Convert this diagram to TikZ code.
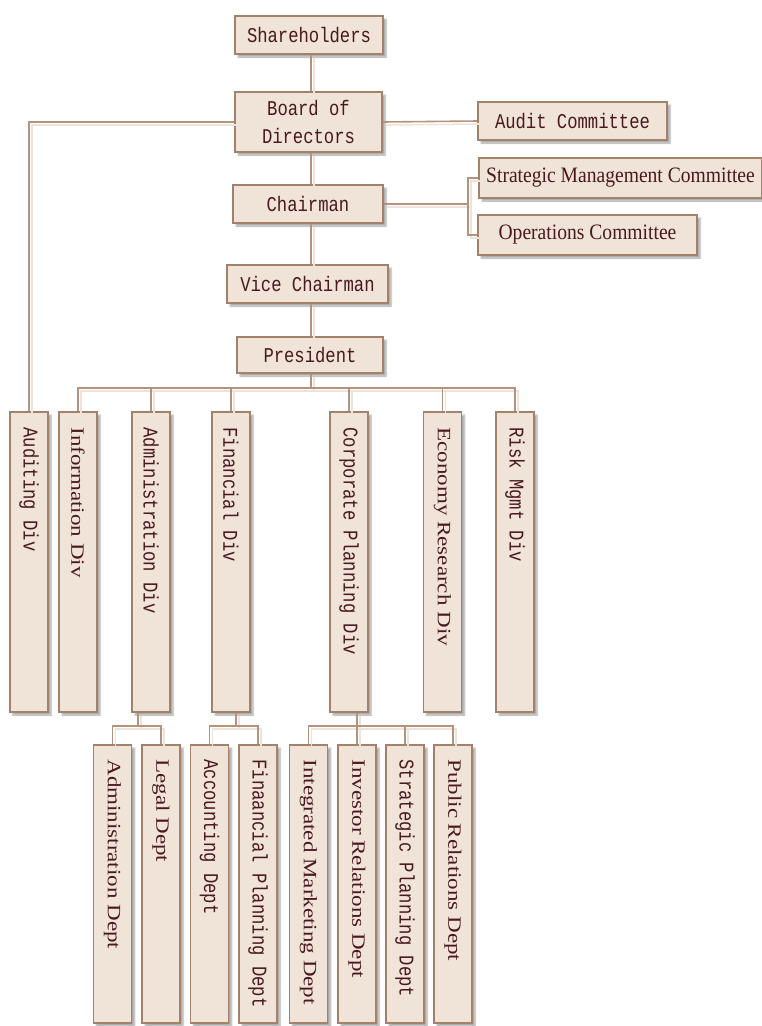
\documentclass[tikz,border=0pt]{standalone}
\usepackage{fontspec}
\usepackage{graphicx}
\usetikzlibrary{shadows.blur}
\newfontfamily\lmonof{Liberation Mono}
\newfontfamily\lseriff{Liberation Serif}
\definecolor{boxfill}{HTML}{F0E4D8}
\definecolor{boxline}{HTML}{A3826B}
\definecolor{linec}{HTML}{B3937D}
\definecolor{ghostc}{HTML}{EDE3DB}
\definecolor{txtc}{HTML}{4A1820}
\newcommand\txm[1]{\scalebox{0.82}[1]{\fontsize{21}{24}\selectfont\lmonof #1}}
\newcommand\txs[1]{\scalebox{0.89}[1]{\fontsize{22}{24}\selectfont\lseriff #1}}
\newcommand\txmv[1]{\rotatebox{-90}{\txm{#1}}}
\newcommand\txsv[1]{\rotatebox{-90}{\scalebox{1}[0.82]{\fontsize{23}{24}\selectfont\lseriff #1}}}
\begin{document}
\begin{tikzpicture}[x=1pt,y=-1pt,
  box/.style={rectangle, draw=boxline, line width=1.5pt, fill=boxfill, inner sep=0pt,
    text=txtc, blur shadow={shadow xshift=3pt, shadow yshift=-3pt, shadow blur steps=6, shadow opacity=35}},
  col/.style={box, minimum width=38, minimum height=300},
  sub/.style={box, minimum width=38, minimum height=278},
  vt/.style={anchor=north, inner sep=0pt, text=txtc},
  conn/.style={draw=linec, line width=1.6pt, preaction={draw=ghostc, line width=1.6pt, transform canvas={shift={(3pt,-3pt)}}}}
]
\useasboundingbox (0,0) rectangle (762,1026);
% upper chain
\node[box, minimum width=148, minimum height=38] (sh) at (309,35) {\txm{Shareholders}};
\node[box, minimum width=147, minimum height=60, align=center, font=\fontsize{21}{28}\selectfont] (bd) at (308.5,122) {\txm{Board of}\\\txm{Directors}};
\node[box, minimum width=150, minimum height=38] (ch) at (308,204) {\txm{Chairman}};
\node[box, minimum width=161, minimum height=38] (vc) at (307.5,284) {\txm{Vice Chairman}};
\node[box, minimum width=146, minimum height=36] (pr) at (310,355) {\txm{President}};
% committees
\node[box, minimum width=189, minimum height=38] (ac) at (572.5,121) {\txm{Audit Committee}};
\node[box, minimum width=283, minimum height=40] (smc) at (620.5,178) {\txs{Strategic Management Committee}};
\node[box, minimum width=219, minimum height=40] (opc) at (587.5,235) {\txs{Operations Committee}};
% divisions
\node[col] (aud) at (29,562) {};
\node[col] (inf) at (78,562) {};
\node[col] (adm) at (151,562) {};
\node[col] (fin) at (231,562) {};
\node[col] (cor) at (349,562) {};
\node[col] (eco) at (442.5,562) {};
\node[col] (rsk) at (515,562) {};
\node[vt] (aud-t) at ([yshift=-16pt]aud.north) {\txmv{Auditing Div}};
\node[vt] (inf-t) at ([yshift=-16pt]inf.north) {\txsv{Information Div}};
\node[vt] (adm-t) at ([yshift=-16pt]adm.north) {\txmv{Administration Div}};
\node[vt] (fin-t) at ([yshift=-16pt]fin.north) {\txmv{Financial Div}};
\node[vt] (cor-t) at ([yshift=-16pt]cor.north) {\txmv{Corporate Planning Div}};
\node[vt] (eco-t) at ([yshift=-16pt]eco.north) {\txsv{Economy Research Div}};
\node[vt] (rsk-t) at ([yshift=-16pt]rsk.north) {\txmv{Risk Mgmt Div}};
% departments
\node[sub] (admd) at (112.5,884) {};
\node[sub] (leg) at (161,884) {};
\node[sub] (acc) at (209.5,884) {};
\node[sub] (fpl) at (258,884) {};
\node[sub] (imk) at (308.5,884) {};
\node[sub] (inv) at (357,884) {};
\node[sub] (spl) at (405,884) {};
\node[sub] (pub) at (453,884) {};
\node[vt] (admd-t) at ([yshift=-15pt]admd.north) {\txsv{Administration Dept}};
\node[vt] (leg-t) at ([yshift=-15pt]leg.north) {\txsv{Legal Dept}};
\node[vt] (acc-t) at ([yshift=-15pt]acc.north) {\txmv{Accounting Dept}};
\node[vt] (fpl-t) at ([yshift=-15pt]fpl.north) {\txmv{Finaancial Planning Dept}};
\node[vt] (imk-t) at ([yshift=-15pt]imk.north) {\txsv{Integrated Marketing Dept}};
\node[vt] (inv-t) at ([yshift=-15pt]inv.north) {\txsv{Investor Relations Dept}};
\node[vt] (spl-t) at ([yshift=-15pt]spl.north) {\txmv{Strategic Planning Dept}};
\node[vt] (pub-t) at ([yshift=-15pt]pub.north) {\txsv{Public Relations Dept}};
% connectors
\coordinate (br) at (468,204);
\coordinate (bus) at (311,388);
\coordinate (ab) at (138,726);
\coordinate (fb) at (236,726);
\coordinate (cb) at (357,726);
\path[conn] (sh.south -| bus) -- (bd.north -| bus);
\path[conn] (bd.south -| bus) -- (ch.north -| bus);
\path[conn] (ch.south -| bus) -- (vc.north -| bus);
\path[conn] (vc.south -| bus) -- (pr.north -| bus);
\path[conn] (pr.south -| bus) -- (bus);
\path[conn] (bd.east) -- (ac.west);
\path[conn] (ch.east) -- (br);
\path[conn] (smc.west) -| (br) |- (opc.west);
\path[conn] (bd.west) -| (aud.north);
\path[conn] (inf.north) |- (bus) -| (rsk.north);
\path[conn] (adm.north) -- (adm.north |- bus);
\path[conn] (fin.north) -- (fin.north |- bus);
\path[conn] (cor.north) -- (cor.north |- bus);
\path[conn] (eco.north) -- (eco.north |- bus);
\path[conn] (adm.south -| ab) -- (ab);
\path[conn] (admd.north) |- (ab) -| (leg.north);
\path[conn] (fin.south -| fb) -- (fb);
\path[conn] (acc.north) |- (fb) -| (fpl.north);
\path[conn] (cor.south -| cb) -- (cb);
\path[conn] (imk.north) |- (cb) -| (pub.north);
\path[conn] (inv.north) -- (inv.north |- cb);
\path[conn] (spl.north) -- (spl.north |- cb);
\end{tikzpicture}
\end{document}
